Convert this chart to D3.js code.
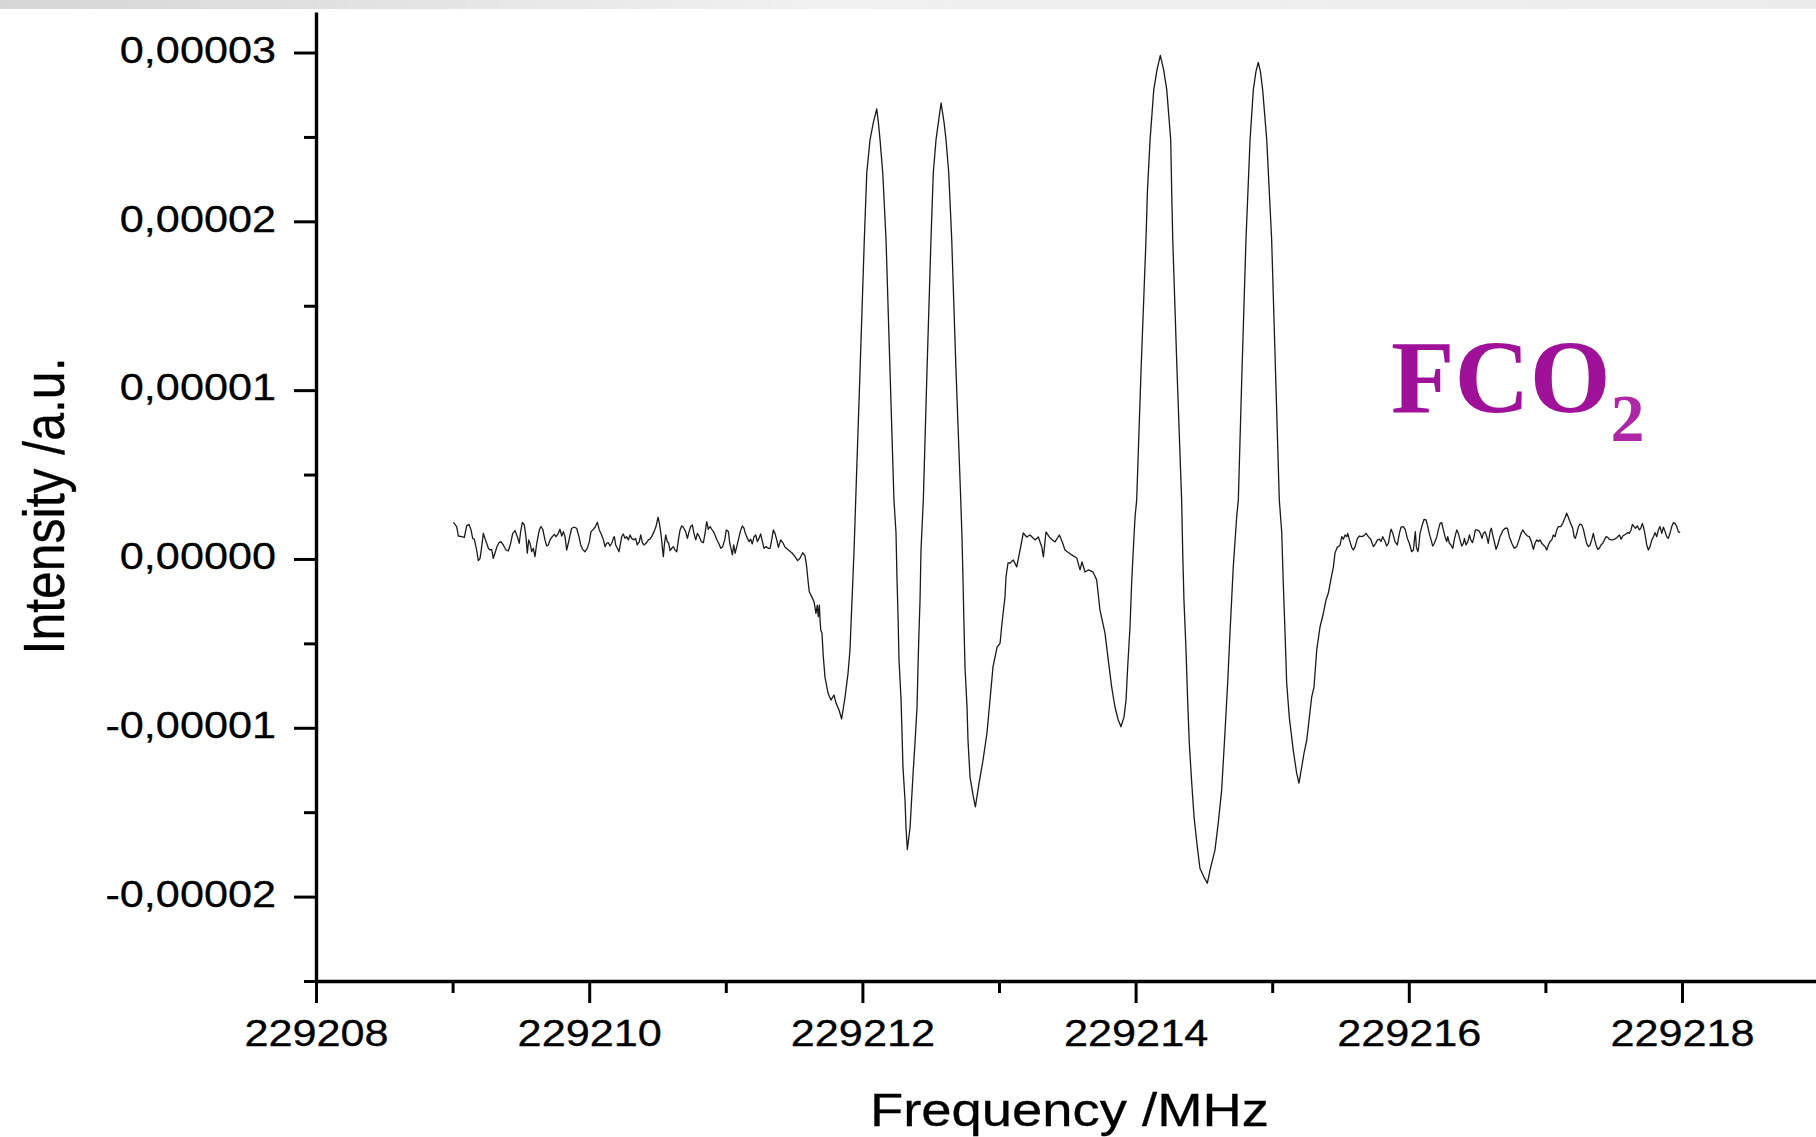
<!DOCTYPE html>
<html>
<head>
<meta charset="utf-8">
<script src="https://cdn.jsdelivr.net/npm/d3@7"></script>
<style>
  html, body { margin: 0; padding: 0; background: #ffffff; }
  svg { display: block; }
</style>
</head>
<body>
<svg id="chart" width="1816" height="1137"></svg>
<script>
// ---------------- DATA ----------------
// Frequency in MHz, intensity in units of 1e-5 a.u.
const INTENSITY_UNIT = 1e-5;

const leftBaseline = [
[229209.005,0.217],[229209.030,0.192],[229209.042,0.136],[229209.066,0.132],[229209.086,0.128],[229209.103,0.196],[229209.120,0.205],[229209.135,0.172],[229209.147,0.122],[229209.159,0.117],[229209.176,0.053],[229209.188,-0.010],[229209.201,0.004],[229209.213,0.073],[229209.225,0.152],[229209.237,0.122],[229209.249,0.093],[229209.262,0.063],[229209.274,0.053],[229209.286,0.057],[229209.298,0.004],[229209.310,0.034],[229209.323,0.069],[229209.340,0.097],[229209.354,0.103],[229209.371,0.083],[229209.391,0.053],[229209.408,0.047],[229209.425,0.093],[229209.440,0.152],[229209.457,0.168],[229209.474,0.132],[229209.488,0.093],[229209.498,0.162],[229209.511,0.217],[229209.525,0.202],[229209.537,0.132],[229209.547,0.034],[229209.557,0.113],[229209.567,0.093],[229209.579,0.043],[229209.591,0.063],[229209.603,0.014],[229209.616,0.093],[229209.635,0.172],[229209.647,0.192],[229209.660,0.176],[229209.676,0.113],[229209.689,0.077],[229209.701,0.083],[229209.713,0.113],[229209.730,0.132],[229209.745,0.146],[229209.757,0.132],[229209.774,0.152],[229209.786,0.176],[229209.799,0.136],[229209.811,0.162],[229209.823,0.132],[229209.835,0.053],[229209.847,0.093],[229209.860,0.142],[229209.872,0.182],[229209.889,0.188],[229209.908,0.182],[229209.925,0.132],[229209.938,0.083],[229209.952,0.057],[229209.969,0.043],[229209.986,0.063],[229210.001,0.103],[229210.013,0.162],[229210.026,0.172],[229210.043,0.188],[229210.060,0.217],[229210.074,0.172],[229210.091,0.142],[229210.104,0.113],[229210.116,0.073],[229210.128,0.093],[229210.140,0.097],[229210.152,0.077],[229210.165,0.093],[229210.177,0.122],[229210.184,0.132],[229210.194,0.083],[229210.206,0.063],[229210.218,0.043],[229210.226,0.077],[229210.238,0.132],[229210.250,0.148],[229210.262,0.122],[229210.274,0.132],[229210.287,0.113],[229210.299,0.142],[229210.311,0.122],[229210.328,0.113],[229210.340,0.122],[229210.352,0.083],[229210.367,0.103],[229210.377,0.142],[229210.389,0.097],[229210.401,0.083],[229210.416,0.093],[229210.433,0.113],[229210.445,0.117],[229210.457,0.132],[229210.475,0.162],[229210.489,0.192],[229210.504,0.247],[229210.514,0.211],[229210.528,0.132],[229210.536,0.063],[229210.543,0.014],[229210.550,0.083],[229210.560,0.142],[229210.572,0.103],[229210.582,0.093],[229210.592,0.049],[229210.604,0.063],[229210.616,0.073],[229210.628,0.053],[229210.641,0.043],[229210.653,0.113],[229210.665,0.172],[229210.677,0.196],[229210.689,0.188],[229210.706,0.162],[229210.719,0.122],[229210.731,0.162],[229210.743,0.192],[229210.755,0.202],[229210.767,0.152],[229210.780,0.113],[229210.792,0.152],[229210.806,0.132],[229210.821,0.103],[229210.836,0.097],[229210.848,0.152],[229210.860,0.221],[229210.872,0.176],[229210.885,0.192],[229210.897,0.176],[229210.909,0.162],[229210.921,0.142],[229210.933,0.117],[229210.948,0.093],[229210.963,0.063],[229210.977,0.073],[229210.992,0.113],[229211.004,0.172],[229211.019,0.162],[229211.029,0.093],[229211.038,0.063],[229211.048,0.024],[229211.058,0.083],[229211.068,0.034],[229211.080,0.073],[229211.092,0.113],[229211.106,0.162],[229211.121,0.196],[229211.133,0.182],[229211.143,0.152],[229211.155,0.128],[229211.170,0.103],[229211.182,0.117],[229211.194,0.089],[229211.207,0.132],[229211.219,0.142],[229211.231,0.103],[229211.243,0.122],[229211.255,0.148],[229211.268,0.103],[229211.280,0.063],[229211.294,0.073],[229211.311,0.063],[229211.324,0.063],[229211.336,0.113],[229211.348,0.172],[229211.360,0.152],[229211.373,0.113],[229211.385,0.069],[229211.402,0.113],[229211.417,0.097],[229211.434,0.069],[229211.458,0.053],[229211.483,0.037],[229211.507,0.014],[229211.526,-0.010],[229211.543,0.004],[229211.563,0.037],[229211.580,0.018],[229211.592,-0.045],[229211.604,-0.144],[229211.611,-0.194],[229211.629,-0.223],[229211.646,-0.253],[229211.660,-0.322],[229211.670,-0.273],[229211.677,-0.342],[229211.685,-0.273],[229211.690,-0.362],[229211.695,-0.421]
];

const lineRegion = [
[229211.704,-0.439],[229211.714,-0.581],[229211.726,-0.700],[229211.748,-0.794],[229211.770,-0.836],[229211.792,-0.806],[229211.807,-0.854],[229211.829,-0.895],[229211.848,-0.948],[229211.873,-0.818],[229211.895,-0.676],[229211.909,-0.539],[229211.917,-0.379],[229211.928,-0.166],[229211.939,0.053],[229211.951,0.350],[229211.983,1.120],[229212.014,1.891],[229212.032,2.288],[229212.056,2.484],[229212.080,2.585],[229212.105,2.666],[229212.117,2.585],[229212.129,2.484],[229212.149,2.288],[229212.173,1.891],[229212.202,1.120],[229212.231,0.350],[229212.246,0.154],[229212.253,-0.107],[229212.261,-0.344],[229212.268,-0.599],[229212.283,-0.836],[229212.290,-1.031],[229212.297,-1.233],[229212.312,-1.429],[229212.319,-1.589],[229212.329,-1.721],[229212.349,-1.589],[229212.371,-1.269],[229212.385,-1.091],[229212.400,-0.877],[229212.407,-0.640],[229212.414,-0.439],[229212.422,-0.243],[229212.429,0.053],[229212.446,0.350],[229212.473,1.120],[229212.502,1.891],[229212.519,2.288],[229212.539,2.484],[229212.556,2.585],[229212.576,2.701],[229212.598,2.585],[229212.612,2.484],[229212.632,2.288],[229212.654,1.891],[229212.685,1.120],[229212.720,0.350],[229212.729,0.130],[229212.737,-0.142],[229212.744,-0.403],[229212.751,-0.640],[229212.766,-0.877],[229212.773,-1.073],[229212.788,-1.292],[229212.810,-1.399],[229212.827,-1.468],[229212.854,-1.328],[229212.883,-1.192],[229212.912,-1.031],[229212.934,-0.836],[229212.956,-0.640],[229212.986,-0.522],[229213.008,-0.498],[229213.022,-0.379],[229213.044,-0.225],[229213.051,-0.107],[229213.066,-0.024],[229213.081,-0.024],[229213.105,-0.006],[229213.130,-0.047],[229213.154,0.053],[229213.178,0.154],[229213.203,0.130],[229213.227,0.142],[229213.264,0.113],[229213.288,0.130],[229213.313,0.071],[229213.325,0.012],[229213.344,0.160],[229213.374,0.124],[229213.410,0.101],[229213.442,0.142],[229213.466,0.095],[229213.483,0.053],[229213.532,0.024],[229213.569,0.006],[229213.593,-0.065],[229213.608,-0.018],[229213.630,-0.077],[229213.654,-0.065],[229213.688,-0.077],[229213.715,-0.124],[229213.739,-0.302],[229213.776,-0.439],[229213.800,-0.599],[229213.825,-0.759],[229213.849,-0.877],[229213.873,-0.954],[229213.893,-0.994],[229213.915,-0.937],[229213.930,-0.836],[229213.942,-0.640],[229213.959,-0.403],[229213.971,-0.142],[229213.983,0.053],[229213.996,0.249],[229214.008,0.350],[229214.040,1.120],[229214.076,1.891],[229214.087,2.187],[229214.106,2.484],[229214.133,2.780],[229214.157,2.899],[229214.181,2.983],[229214.205,2.899],[229214.228,2.780],[229214.257,2.484],[229214.264,2.187],[229214.272,1.891],[229214.303,1.120],[229214.337,0.350],[229214.345,0.036],[229214.354,-0.243],[229214.369,-0.539],[229214.381,-0.836],[229214.393,-1.091],[229214.411,-1.328],[229214.428,-1.529],[229214.452,-1.707],[229214.471,-1.832],[229214.501,-1.885],[229214.525,-1.921],[229214.550,-1.826],[229214.581,-1.725],[229214.605,-1.565],[229214.630,-1.369],[229214.654,-1.031],[229214.674,-0.735],[229214.691,-0.439],[229214.715,-0.047],[229214.740,0.249],[229214.752,0.350],[229214.779,1.120],[229214.808,1.891],[229214.838,2.484],[229214.862,2.780],[229214.881,2.887],[229214.898,2.942],[229214.914,2.887],[229214.930,2.780],[229214.960,2.484],[229214.996,1.891],[229215.024,1.120],[229215.052,0.350],[229215.070,0.154],[229215.081,-0.142],[229215.094,-0.439],[229215.106,-0.735],[229215.125,-0.937],[229215.154,-1.132],[229215.179,-1.269],[229215.196,-1.328],[229215.216,-1.233],[229215.233,-1.150],[229215.253,-1.073],[229215.272,-0.937],[229215.289,-0.818],[229215.306,-0.759],[229215.326,-0.539],[229215.350,-0.403],[229215.375,-0.320],[229215.394,-0.243],[229215.411,-0.202],[229215.429,-0.124],[229215.448,-0.047],[229215.460,0.036],[229215.477,0.071]
];

const rightBaseline = [
[229215.485,0.073],[229215.497,0.083],[229215.509,0.132],[229215.521,0.117],[229215.533,0.142],[229215.546,0.132],[229215.553,0.152],[229215.565,0.113],[229215.582,0.069],[229215.594,0.053],[229215.607,0.073],[229215.624,0.122],[229215.638,0.136],[229215.656,0.132],[229215.672,0.138],[229215.687,0.152],[229215.704,0.132],[229215.721,0.117],[229215.741,0.073],[229215.758,0.093],[229215.770,0.113],[229215.785,0.117],[229215.797,0.103],[229215.809,0.132],[229215.826,0.103],[229215.838,0.077],[229215.851,0.093],[229215.863,0.152],[229215.870,0.176],[229215.883,0.152],[229215.899,0.103],[229215.916,0.083],[229215.931,0.152],[229215.943,0.188],[229215.960,0.192],[229215.975,0.172],[229215.989,0.122],[229216.004,0.093],[229216.021,0.043],[229216.034,0.053],[229216.041,0.113],[229216.048,0.162],[229216.055,0.073],[229216.066,0.043],[229216.073,0.073],[229216.082,0.152],[229216.095,0.192],[229216.112,0.235],[229216.126,0.231],[229216.136,0.202],[229216.150,0.152],[229216.163,0.113],[229216.175,0.077],[229216.187,0.093],[229216.205,0.132],[229216.216,0.172],[229216.229,0.211],[229216.241,0.215],[229216.253,0.172],[229216.265,0.132],[229216.278,0.103],[229216.285,0.132],[229216.297,0.093],[229216.309,0.083],[229216.322,0.063],[229216.334,0.117],[229216.351,0.172],[229216.363,0.152],[229216.375,0.113],[229216.388,0.077],[229216.400,0.093],[229216.407,0.122],[229216.419,0.083],[229216.432,0.103],[229216.444,0.142],[229216.454,0.113],[229216.466,0.097],[229216.478,0.132],[229216.487,0.172],[229216.497,0.172],[229216.512,0.168],[229216.524,0.152],[229216.536,0.122],[229216.546,0.152],[229216.558,0.162],[229216.571,0.132],[229216.582,0.093],[229216.595,0.162],[229216.604,0.182],[229216.617,0.132],[229216.629,0.093],[229216.639,0.057],[229216.651,0.083],[229216.668,0.132],[229216.688,0.168],[229216.705,0.182],[229216.722,0.182],[229216.736,0.132],[229216.754,0.093],[229216.771,0.063],[229216.790,0.073],[229216.807,0.113],[229216.822,0.152],[229216.834,0.172],[229216.851,0.152],[229216.868,0.136],[229216.883,0.132],[229216.897,0.103],[229216.912,0.057],[229216.924,0.093],[229216.937,0.113],[229216.949,0.103],[229216.961,0.113],[229216.973,0.093],[229216.985,0.083],[229216.998,0.073],[229217.010,0.053],[229217.022,0.083],[229217.034,0.103],[229217.047,0.113],[229217.058,0.142],[229217.071,0.132],[229217.083,0.172],[229217.095,0.192],[229217.112,0.192],[229217.127,0.211],[229217.142,0.241],[229217.156,0.271],[229217.168,0.247],[229217.180,0.221],[229217.193,0.196],[229217.200,0.182],[229217.210,0.132],[229217.219,0.122],[229217.230,0.152],[229217.242,0.192],[229217.254,0.207],[229217.266,0.202],[229217.278,0.176],[229217.290,0.132],[229217.303,0.089],[229217.315,0.073],[229217.327,0.083],[229217.339,0.113],[229217.351,0.152],[229217.361,0.113],[229217.371,0.083],[229217.383,0.057],[229217.395,0.063],[229217.407,0.083],[229217.420,0.093],[229217.432,0.113],[229217.444,0.132],[229217.456,0.128],[229217.468,0.117],[229217.481,0.113],[229217.493,0.113],[229217.505,0.117],[229217.517,0.122],[229217.529,0.132],[229217.542,0.142],[229217.554,0.117],[229217.566,0.136],[229217.578,0.142],[229217.590,0.148],[229217.603,0.156],[229217.615,0.152],[229217.627,0.172],[229217.637,0.205],[229217.649,0.192],[229217.659,0.182],[229217.673,0.196],[229217.688,0.172],[229217.698,0.182],[229217.710,0.211],[229217.722,0.176],[229217.732,0.132],[229217.742,0.083],[229217.754,0.053],[229217.766,0.073],[229217.779,0.113],[229217.791,0.132],[229217.803,0.156],[229217.815,0.132],[229217.827,0.172],[229217.839,0.192],[229217.852,0.152],[229217.864,0.188],[229217.876,0.162],[229217.888,0.132],[229217.900,0.122],[229217.912,0.152],[229217.925,0.192],[229217.937,0.215],[229217.949,0.211],[229217.961,0.192],[229217.973,0.162],[229217.986,0.156]
];

const xMajorTicks = [229208, 229210, 229212, 229214, 229216, 229218];
const xMinorTicks = [229209, 229211, 229213, 229215, 229217];
const yMajorTicks = [-0.00002, -0.00001, 0, 0.00001, 0.00002, 0.00003];
const yMinorTicks = [-0.000025, -0.000015, -0.000005, 0.000005, 0.000015, 0.000025];
const xDomain = [229208, 229219];
const yDomain = [-0.000025, 0.0000324];

const xTitle = "Frequency /MHz";
const yTitle = "Intensity /a.u.";
const moleculeMain = "FCO";
const moleculeSub = "2";

// ---------------- DRAW ----------------
const svg = d3.select("#chart");
const W = 1816, H = 1137;
const FONT = "'Liberation Sans', Arial, Helvetica, sans-serif";

// faint top band
const defs = svg.append("defs");
const grad = defs.append("linearGradient").attr("id", "band").attr("x1", "0").attr("x2", "1");
grad.append("stop").attr("offset", "0").attr("stop-color", "#d6d6d6");
grad.append("stop").attr("offset", "0.45").attr("stop-color", "#f1f1f1");
grad.append("stop").attr("offset", "1").attr("stop-color", "#ececec");
svg.append("rect").attr("x", 0).attr("y", 0).attr("width", W).attr("height", 9).attr("fill", "url(#band)");

const x = d3.scaleLinear().domain(xDomain).range([316, 316 + 11 * 136.6]);
const y = d3.scaleLinear().domain(yDomain).range([981, 12]);

function fmtY(v) {
  const s = Math.abs(v).toFixed(5).replace(".", ",");
  return (v < -1e-12 ? "-" : "") + s;
}

function stretch(sel, k) {
  sel.each(function () {
    const w = this.getComputedTextLength();
    d3.select(this).attr("textLength", w * k).attr("lengthAdjust", "spacingAndGlyphs");
  });
}

// spectrum line
const spectrum = leftBaseline.concat(lineRegion, rightBaseline);
const line = d3.line()
  .x(d => x(d[0]))
  .y(d => y(d[1] * INTENSITY_UNIT));
svg.append("path")
  .datum(spectrum)
  .attr("d", line)
  .attr("fill", "none")
  .attr("stroke", "#1a1a1a")
  .attr("stroke-width", 1.3)
  .attr("stroke-linejoin", "round");

// X axis - minor
const gxMinor = svg.append("g").attr("transform", "translate(0,981)")
  .call(d3.axisBottom(x).tickValues(xMinorTicks).tickSize(12).tickSizeOuter(0).tickFormat(""));
gxMinor.select(".domain").remove();
gxMinor.selectAll(".tick line").attr("stroke", "#000").attr("stroke-width", 3);

// Y axis - minor
const gyMinor = svg.append("g").attr("transform", "translate(316,0)")
  .call(d3.axisLeft(y).tickValues(yMinorTicks).tickSize(12).tickSizeOuter(0).tickFormat(""));
gyMinor.select(".domain").remove();
gyMinor.selectAll(".tick line").attr("stroke", "#000").attr("stroke-width", 3);

// X axis - major
const gx = svg.append("g").attr("transform", "translate(0,981)")
  .call(d3.axisBottom(x).tickValues(xMajorTicks).tickSize(22).tickSizeOuter(0).tickPadding(17).tickFormat(d => String(d)));
gx.attr("font-family", FONT).attr("font-size", 36);
gx.select(".domain").attr("stroke", "#000").attr("stroke-width", 3.4);
gx.selectAll(".tick line").attr("stroke", "#000").attr("stroke-width", 3);
gx.selectAll(".tick text").attr("fill", "#000").attr("stroke", "#000").attr("stroke-width", 0.3);
stretch(gx.selectAll(".tick text"), 1.2);

// Y axis - major
const gy = svg.append("g").attr("transform", "translate(316,0)")
  .call(d3.axisLeft(y).tickValues(yMajorTicks).tickSize(22).tickSizeOuter(0).tickPadding(18).tickFormat(fmtY));
gy.attr("font-family", FONT).attr("font-size", 36);
gy.select(".domain").attr("stroke", "#000").attr("stroke-width", 3.4);
gy.selectAll(".tick line").attr("stroke", "#000").attr("stroke-width", 3);
gy.selectAll(".tick text").attr("fill", "#000").attr("dy", "0.27em").attr("stroke", "#000").attr("stroke-width", 0.3);
stretch(gy.selectAll(".tick text"), 1.2);

// axis titles
svg.append("text")
  .attr("x", 1069.5).attr("y", 1126)
  .attr("text-anchor", "middle")
  .attr("font-family", FONT).attr("font-size", 46)
  .attr("fill", "#000").attr("stroke", "#000").attr("stroke-width", 0.3)
  .attr("textLength", 399).attr("lengthAdjust", "spacingAndGlyphs")
  .text(xTitle);

svg.append("g").attr("transform", "translate(64,506) scale(1.15,1) rotate(-90)")
  .append("text")
  .attr("x", 0).attr("y", 0)
  .attr("text-anchor", "middle")
  .attr("font-family", FONT).attr("font-size", 50)
  .attr("fill", "#000").attr("stroke", "#000").attr("stroke-width", 0.3)
  .attr("textLength", 297).attr("lengthAdjust", "spacingAndGlyphs")
  .text(yTitle);

// molecule label
const lbl = svg.append("text")
  .attr("x", 1391).attr("y", 412)
  .attr("font-family", "'Liberation Serif', 'Times New Roman', serif")
  .attr("font-weight", "bold")
  .attr("font-size", 104)
  .attr("fill", "#a0119a");
lbl.append("tspan").text(moleculeMain);
lbl.append("tspan").attr("font-size", 68).attr("dy", 29).attr("fill", "#ad27a6").text(moleculeSub);
</script>
</body>
</html>
